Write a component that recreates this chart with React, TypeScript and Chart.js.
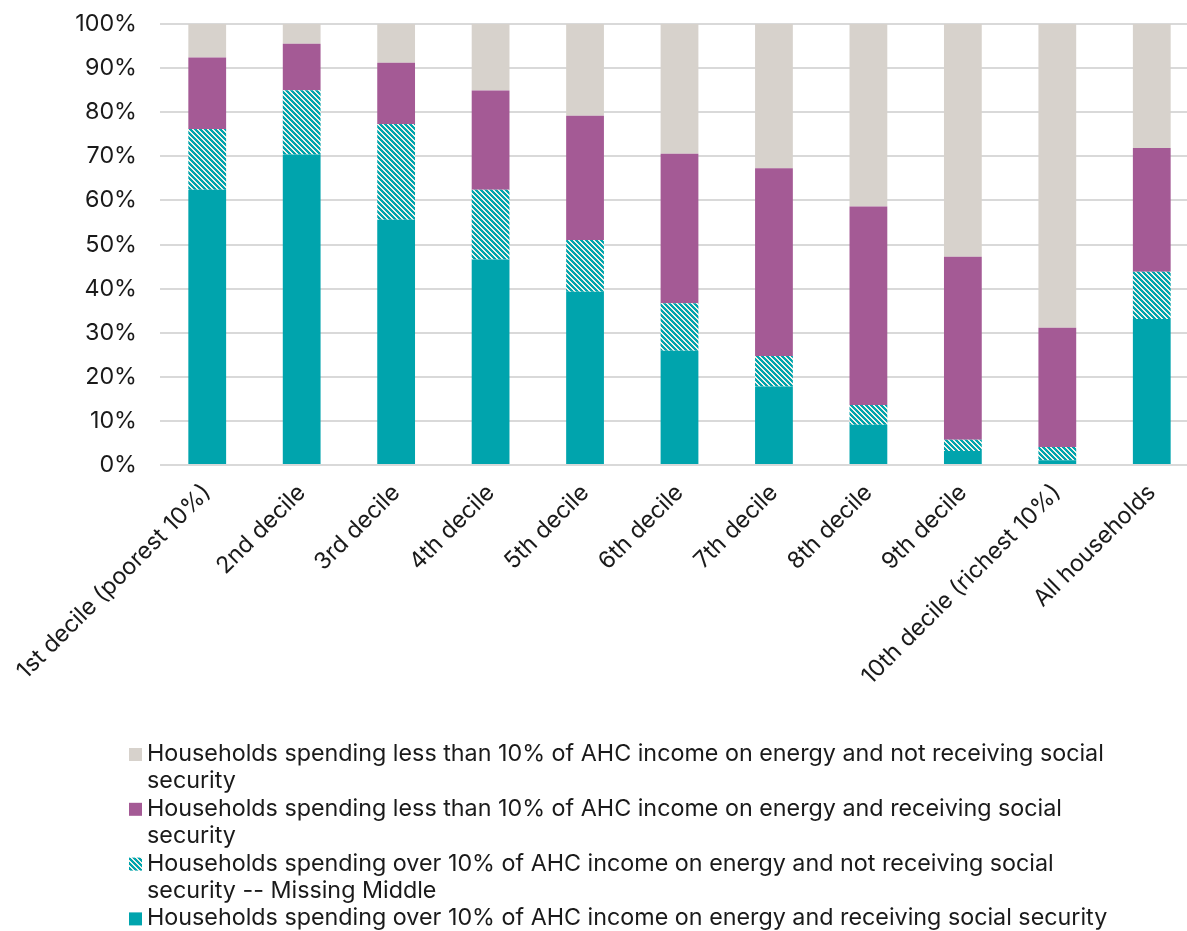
import React, { useEffect, useRef } from "react";
import { Chart, registerables } from "chart.js";

Chart.register(...registerables);

const categories = [
  "1st decile (poorest 10%)",
  "2nd decile",
  "3rd decile",
  "4th decile",
  "5th decile",
  "6th decile",
  "7th decile",
  "8th decile",
  "9th decile",
  "10th decile (richest 10%)",
  "All households",
];

// Stacked shares (%), bottom to top
const overWithSocial = [62.4, 70.4, 55.6, 46.6, 39.3, 25.9, 17.8, 9.1, 3.2, 1.1, 33.1];
const overNoSocial = [13.8, 14.6, 21.7, 15.8, 11.7, 10.8, 6.9, 4.5, 2.5, 3.0, 10.7];
const lessWithSocial = [16.2, 10.5, 13.9, 22.5, 28.2, 33.9, 42.6, 45.0, 41.5, 27.0, 28.1];
const lessNoSocial = [7.6, 4.5, 8.8, 15.1, 20.8, 29.4, 32.7, 41.4, 52.8, 68.9, 28.1];

const yTickValues = [0, 10, 20, 30, 40, 50, 60, 70, 80, 90, 100];

const seriesNames = [
  "Households spending over 10% of AHC income on energy and receiving social security",
  "Households spending over 10% of AHC income on energy and not receiving social security -- Missing Middle",
  "Households spending less than 10% of AHC income on energy and receiving social security",
  "Households spending less than 10% of AHC income on energy and not receiving social security",
];

// Legend text lines (top to bottom), as wrapped in the reference
const legendLinesGrey = ["Households spending less than 10% of AHC income on energy and not receiving social", "security"];
const legendLinesPurple = ["Households spending less than 10% of AHC income on energy and receiving social", "security"];
const legendLinesHatch = ["Households spending over 10% of AHC income on energy and not receiving social", "security -- Missing Middle"];
const legendLinesTeal = ["Households spending over 10% of AHC income on energy and receiving social security"];

const TEAL = "#00a4ad";
const PURPLE = "#a45a95";
const GREY = "#d7d2cc";
const CREAM = "#efefe8";
const FONT = "Inter, 'Noto Sans', sans-serif";
const FONT_SIZE = 23.3;

function makeHatch(): CanvasPattern | string {
  const c = document.createElement("canvas");
  const n = 5;
  c.width = n;
  c.height = n;
  const g = c.getContext("2d");
  if (!g) return TEAL;
  g.fillStyle = CREAM;
  g.fillRect(0, 0, n, n);
  g.fillStyle = TEAL;
  for (let r = 0; r < n; r++) {
    for (let k = 0; k < 3; k++) {
      const x = (r + k) % n;
      g.fillRect(x, r, 1, 1);
    }
  }
  const p = g.createPattern(c, "repeat");
  return p || TEAL;
}

export default function App() {
  const ref = useRef<HTMLCanvasElement | null>(null);

  useEffect(() => {
    document.body.style.margin = "0";
    document.body.style.overflow = "hidden";
    const canvas = ref.current;
    if (!canvas) return;
    const hatch = makeHatch();

    const legendGroups = [
      { fill: GREY, lines: legendLinesGrey },
      { fill: PURPLE, lines: legendLinesPurple },
      { fill: hatch, lines: legendLinesHatch },
      { fill: TEAL, lines: legendLinesTeal },
    ];

    const legendPlugin = {
      id: "wrappedLegend",
      afterDraw(chart: any) {
        const ctx = chart.ctx as CanvasRenderingContext2D;
        ctx.save();
        ctx.font = `${FONT_SIZE}px ${FONT}`;
        ctx.textBaseline = "middle";
        ctx.textAlign = "left";
        let y = 754;
        const lineH = 27.4;
        legendGroups.forEach((g) => {
          ctx.fillStyle = g.fill as any;
          ctx.fillRect(129, y - 6, 13, 13);
          ctx.fillStyle = "#1a1a1a";
          g.lines.forEach((line) => {
            ctx.fillText(line, 147, y);
            y += lineH;
          });
        });
        ctx.restore();
      },
    };

    const chart = new Chart(canvas, {
      type: "bar",
      data: {
        labels: categories,
        datasets: [
          { label: seriesNames[0], data: overWithSocial, backgroundColor: TEAL },
          { label: seriesNames[1], data: overNoSocial, backgroundColor: hatch as any },
          { label: seriesNames[2], data: lessWithSocial, backgroundColor: PURPLE },
          { label: seriesNames[3], data: lessNoSocial, backgroundColor: GREY },
        ].map((d) => ({ ...d, borderWidth: 0, barPercentage: 0.4, categoryPercentage: 1 })),
      },
      options: {
        responsive: false,
        animation: false,
        events: [],
        layout: { padding: { top: 24, right: 1, bottom: 186, left: 0 } },
        plugins: {
          legend: { display: false },
          tooltip: { enabled: false },
          title: { display: false },
        },
        scales: {
          x: {
            stacked: true,
            grid: { display: false },
            border: { display: false },
            ticks: {
              autoSkip: false,
              maxRotation: 45,
              minRotation: 45,
              padding: 6,
              color: "#1a1a1a",
              font: { family: FONT, size: FONT_SIZE },
            },
            afterFit: (scale: any) => {
              scale.height = 280;
            },
          },
          y: {
            stacked: true,
            min: 0,
            max: 100,
            afterBuildTicks: (scale: any) => {
              scale.ticks = yTickValues.map((v) => ({ value: v }));
            },
            grid: {
              color: "#d9d9d9",
              lineWidth: 2,
              drawTicks: true,
              tickLength: 20,
              tickColor: "rgba(0,0,0,0)",
            },
            border: { display: false },
            ticks: {
              padding: 3,
              color: "#1a1a1a",
              font: { family: FONT, size: FONT_SIZE },
              callback: (v: any) => `${v}%`,
            },
            afterFit: (scale: any) => {
              scale.width = 160;
            },
          },
        },
      },
      plugins: [legendPlugin],
    });
    return () => chart.destroy();
  }, []);

  return (
    <div style={{ width: 1200, height: 931 }}>
      <canvas ref={ref} width={1200} height={931} style={{ display: "block" }} />
    </div>
  );
}
